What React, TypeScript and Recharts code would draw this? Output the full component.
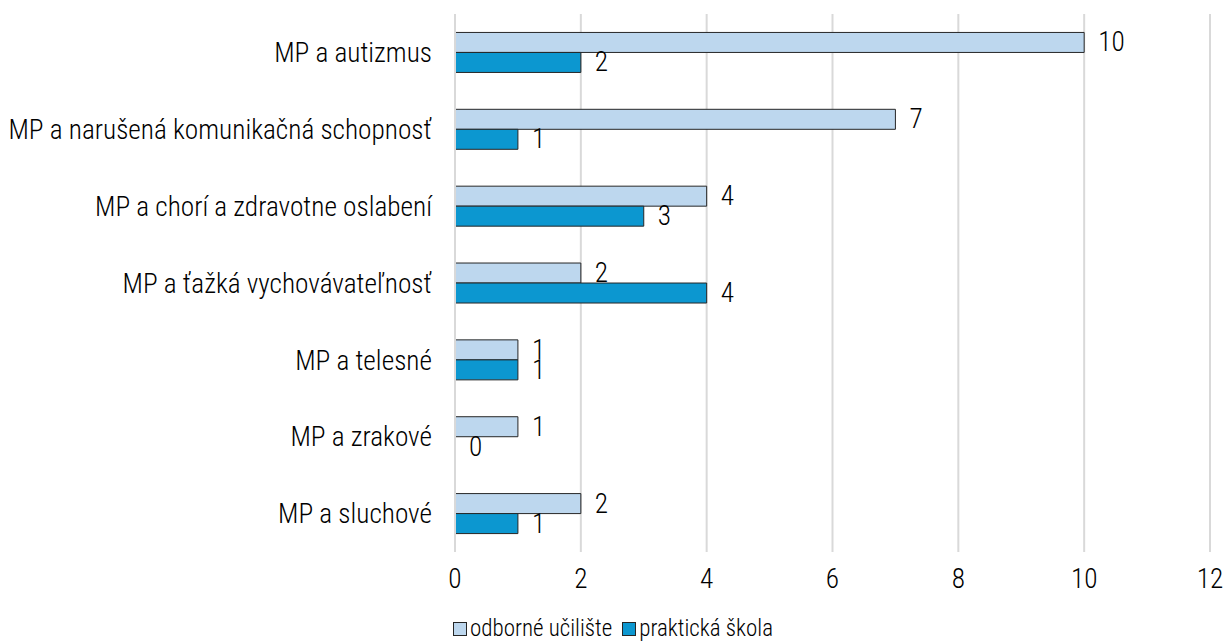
import React from 'react';
import {
  BarChart,
  Bar,
  XAxis,
  YAxis,
  CartesianGrid,
  Legend,
  LabelList,
  Rectangle,
} from 'recharts';

const categories = [
  'MP a autizmus',
  'MP a narušená komunikačná schopnosť',
  'MP a chorí a zdravotne oslabení',
  'MP a ťažká vychovávateľnosť',
  'MP a telesné',
  'MP a zrakové',
  'MP a sluchové',
];
const odborneUciliste = [10, 7, 4, 2, 1, 1, 2];
const praktickaSkola = [2, 1, 3, 4, 1, 0, 1];
const xTicks = [0, 2, 4, 6, 8, 10, 12];

const FONT = '"Roboto Condensed", "Liberation Sans Narrow", "DejaVu Sans Condensed", Roboto, sans-serif';
const FS = 27.3;
const WEIGHT = 300;
const LIGHT = '#BDD7EE';
const DARK = '#0C97D0';
const EDGE = '#262626';

const data = categories.map((name, i) => ({
  name,
  odborne: odborneUciliste[i],
  prakticka: praktickaSkola[i],
}));

const legendItems = [
  { label: 'odborné učilište', color: LIGHT },
  { label: 'praktická škola', color: DARK },
];

function ChartLegend() {
  return (
    <div
      style={{
        display: 'flex',
        justifyContent: 'center',
        gap: 10,
        fontFamily: FONT,
        fontWeight: WEIGHT,
        fontSize: 23,
        lineHeight: '30px',
        color: '#000',
        paddingLeft: 16,
        marginTop: 2,
      }}
    >
      {legendItems.map(item => (
        <span key={item.label} style={{ display: 'flex', alignItems: 'center' }}>
          <span
            style={{
              display: 'inline-block',
              width: 12,
              height: 12,
              background: item.color,
              border: `1px solid ${EDGE}`,
              marginRight: 3,
            }}
          />
          {item.label}
        </span>
      ))}
    </div>
  );
}

// value label to the right of the bar, also for zero-length bars
function ValueLabel(props: any) {
  const { x, y, width, height, value } = props;
  const w = Number(value) === 0 ? 0 : Number(width);
  return (
    <text
      x={Number(x) + w + 14}
      y={Number(y) + Number(height) / 2}
      dominantBaseline="central"
      fill="#000"
      fontSize={FS}
      fontWeight={WEIGHT}
      fontFamily={FONT}
    >
      {String(value)}
    </text>
  );
}

// zero values keep their label but draw no rectangle
function BarShape(props: any) {
  if (Number(props.value) === 0) return <g />;
  return <Rectangle {...props} />;
}

export default function App() {
  return (
    <div style={{ position: 'absolute', left: 0, top: 0, background: '#fff' }}>
      <BarChart
        width={1227}
        height={644}
        data={data}
        layout="vertical"
        margin={{ top: 14, right: 17, left: 0, bottom: 0 }}
        barCategoryGap="24%"
        barGap={0}
      >
        <CartesianGrid horizontal={false} stroke="#D9D9D9" strokeWidth={2} />
        <XAxis
          type="number"
          domain={[0, 12]}
          ticks={xTicks}
          axisLine={false}
          tickLine={false}
          tickMargin={11}
          height={60}
          tick={{ fill: '#000', fontSize: FS, fontWeight: WEIGHT, fontFamily: FONT }}
        />
        <YAxis
          type="category"
          dataKey="name"
          width={455}
          axisLine={{ stroke: '#D9D9D9', strokeWidth: 2 }}
          tickLine={false}
          tickSize={0}
          tickMargin={23}
          tick={{ fill: '#000', fontSize: FS, fontWeight: WEIGHT, fontFamily: FONT }}
        />
        <Legend verticalAlign="bottom" content={<ChartLegend />} />
        <Bar
          dataKey="odborne"
          name="odborné učilište"
          fill={LIGHT}
          stroke={EDGE}
          strokeWidth={1}
          minPointSize={0.01}
          shape={BarShape}
          isAnimationActive={false}
        >
          <LabelList dataKey="odborne" content={ValueLabel} />
        </Bar>
        <Bar
          dataKey="prakticka"
          name="praktická škola"
          fill={DARK}
          stroke={EDGE}
          strokeWidth={1}
          minPointSize={0.01}
          shape={BarShape}
          isAnimationActive={false}
        >
          <LabelList dataKey="prakticka" content={ValueLabel} />
        </Bar>
      </BarChart>
    </div>
  );
}
